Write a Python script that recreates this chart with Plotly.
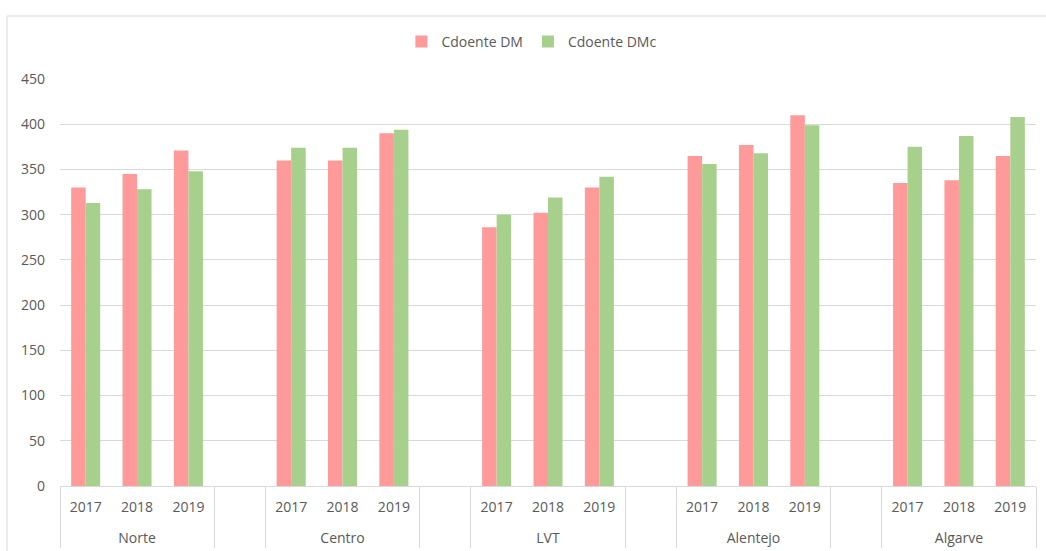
import plotly.graph_objects as go

regions = ["Norte", "Centro", "LVT", "Alentejo", "Algarve"]
years = ["2017", "2018", "2019"]
dm = [[330, 345, 371], [360, 360, 390], [286, 302, 330], [365, 377, 410], [335, 338, 365]]
dmc = [[313, 328, 348], [374, 374, 394], [300, 319, 342], [356, 368, 399], [375, 387, 408]]
series_names = ["Cdoente DM", "Cdoente DMc"]
colors = ["#FF9A9A", "#A8D08D"]

# build multicategory x with blank separator slots between regions
lvl1, lvl2, y_dm, y_dmc = [], [], [], []
for i, r in enumerate(regions):
    for j, yv in enumerate(years):
        lvl1.append("<br>" + r)
        lvl2.append(yv)
        y_dm.append(dm[i][j])
        y_dmc.append(dmc[i][j])
    if i < len(regions) - 1:
        lvl1.append(" " * (i + 1))
        lvl2.append(" ")
        y_dm.append(None)
        y_dmc.append(None)

fig = go.Figure()
for name, vals, c in zip(series_names, [y_dm, y_dmc], colors):
    fig.add_trace(go.Bar(x=[lvl1, lvl2], y=vals, name=name, marker=dict(color=c, line=dict(width=0))))

font_col = "#595959"
fig.update_layout(
    width=1046, height=551,
    margin=dict(l=60, r=10, t=79, b=65),
    paper_bgcolor="white", plot_bgcolor="white",
    barmode="group", bargap=0.435, bargroupgap=0,
    font=dict(family="Open Sans, sans-serif", size=14, color=font_col),
    showlegend=True,
    legend=dict(orientation="h", x=0.483, xanchor="center", y=(486 - 42) / 407, yanchor="middle",
                bgcolor="rgba(0,0,0,0)",
                font=dict(size=14, color=font_col), itemwidth=30, itemsizing="constant"),
    xaxis=dict(type="multicategory", showgrid=False, showline=True, linecolor="#D9D9D9", linewidth=1,
               ticks="outside", ticklen=0, tickcolor="#D9D9D9", ticklabelstandoff=8,
               showdividers=True, dividercolor="#D9D9D9", dividerwidth=1, automargin=False,
               tickfont=dict(size=14, color=font_col)),
    yaxis=dict(range=[0, 450], dtick=50, showgrid=True, gridcolor="#D9D9D9", gridwidth=1,
               zeroline=False, showline=False, ticks="", ticklabelstandoff=14, automargin=False,
               tickfont=dict(size=14, color=font_col)),
    shapes=[dict(type="rect", xref="paper", yref="paper",
                 x0=(7 - 60) / 976, x1=(1060 - 60) / 976,
                 y0=(486 - 560) / 407, y1=(486 - 16) / 407,
                 line=dict(color="#D9D9D9", width=1), fillcolor="rgba(0,0,0,0)", layer="below")],
)
fig.write_html("out.html")
